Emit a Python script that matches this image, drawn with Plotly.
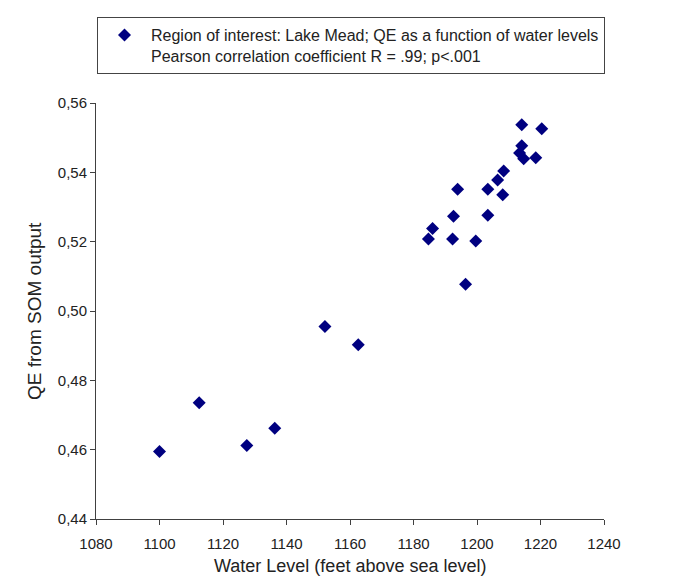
import plotly.graph_objects as go

# Lake Mead: water level (ft) vs QE from SOM output
water_level = [1100.0, 1112.5, 1127.5, 1136.3, 1152.1, 1162.6,
               1184.7, 1186.0, 1192.6, 1193.9, 1192.3, 1196.4,
               1199.6, 1203.4, 1203.4, 1206.5, 1208.4, 1208.1,
               1214.1, 1214.1, 1213.4, 1214.7, 1218.5, 1220.4]
qe = [0.4595, 0.4735, 0.4612, 0.4662, 0.4955, 0.4903,
      0.5208, 0.5238, 0.5273, 0.5351, 0.5208, 0.5077,
      0.5202, 0.5351, 0.5276, 0.5378, 0.5404, 0.5335,
      0.5537, 0.5477, 0.5456, 0.5439, 0.5442, 0.5526]

series_name = ("Region of interest: Lake Mead; QE as a function of water levels<br>"
               "Pearson correlation coefficient R = .99; p<.001")

fig = go.Figure()
fig.add_trace(go.Scatter(x=water_level, y=qe, mode="markers",
                         name=series_name, showlegend=True,
                         marker=dict(symbol="diamond", size=10, color="#000080")))

axis_style = dict(showline=True, linecolor="#404040", linewidth=1,
                  ticks="outside", ticklen=5, tickcolor="#404040",
                  showgrid=False, zeroline=False, automargin=False,
                  tickfont=dict(size=15, color="#222"))

fig.update_layout(width=676, height=580,
                  paper_bgcolor="white", plot_bgcolor="white",
                  font=dict(family="Liberation Sans, Arial, sans-serif"),
                  separators=",.",
                  margin=dict(l=88, r=80, t=95, b=69, autoexpand=False),
                  showlegend=True,
                  legend=dict(xref="container", yref="container",
                              x=89/676, y=1-9/580, xanchor="left", yanchor="top",
                              bordercolor="#444", borderwidth=1,
                              itemwidth=43, valign="top",
                              font=dict(size=16, color="#222")))
fig.update_xaxes(range=[1080, 1240], dtick=20, tick0=1080, ticklabelstandoff=6,
                 **axis_style)
fig.update_yaxes(range=[0.44, 0.56], dtick=0.02, tick0=0.44, tickformat=".2f",
                 **axis_style)

# axis titles
fig.add_annotation(text="Water Level (feet above sea level)",
                   xref="paper", yref="paper", x=0.5, y=0,
                   xanchor="center", yanchor="middle", yshift=-47,
                   showarrow=False, font=dict(size=18, color="#222"))
fig.add_annotation(text="QE from SOM output", textangle=-90,
                   xref="paper", yref="paper", x=0, y=0.5,
                   xanchor="center", yanchor="middle", xshift=-62,
                   showarrow=False, font=dict(size=19, color="#222"))

fig.write_html("out.html")
